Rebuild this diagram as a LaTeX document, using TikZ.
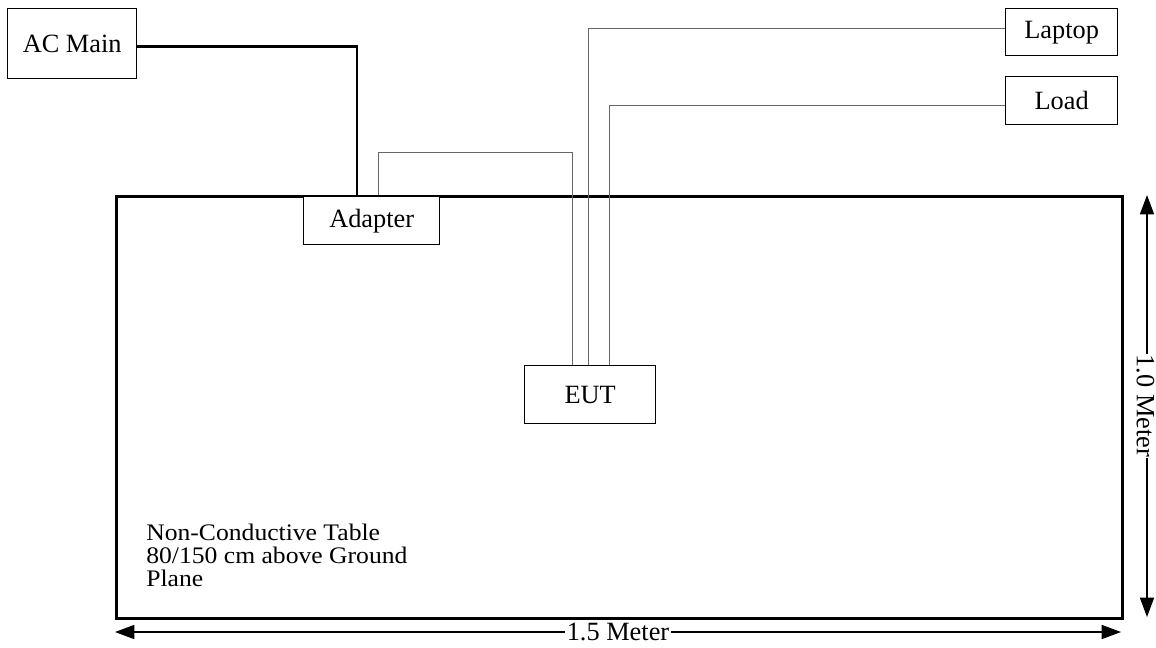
\documentclass[tikz,border=0pt]{standalone}
\usepackage{fontspec}
\setmainfont{Liberation Serif}
\newfontfamily\tablefont[FakeStretch=1.08]{Liberation Serif}
\usetikzlibrary{arrows.meta, positioning, calc}

\begin{document}
\begin{tikzpicture}[x=0.02cm, y=-0.02cm]
\tikzset{
  unit/.style={
    draw,
    rectangle,
    fill=white,
    line width=0.8pt,
    inner sep=0pt,
    font=\fontsize{15}{17}\selectfont
  },
  cable/.style={
    draw=black!60,
    line width=0.5pt
  },
  mains/.style={
    line width=1.7pt
  },
  dim/.style={
    line width=0.8pt,
    {Triangle[length=11pt,width=8pt]}-{Triangle[length=11pt,width=8pt]}
  }
}
\useasboundingbox (0,0) rectangle (1156,647);

% Non-conductive table
\node[draw, rectangle, line width=1.7pt, minimum width=1006*0.02cm, minimum height=422*0.02cm, anchor=north west] (table) at (115,195) {};
\node[anchor=north west, align=left, font=\tablefont\fontsize{13.5}{13.1}\selectfont, inner sep=0pt] (tabletext) at (146,524) {Non-Conductive Table\\80/150 cm above Ground\\Plane};

% Units
\node[unit, minimum width=129*0.02cm, minimum height=70*0.02cm, anchor=north west] (acmain) at (7,8) {AC Main};
\node[unit, minimum width=112*0.02cm, minimum height=47*0.02cm, anchor=north west] (laptop) at (1005,8) {Laptop};
\node[unit, minimum width=112*0.02cm, minimum height=48*0.02cm, anchor=north west] (load) at (1005,76) {Load};
\node[unit, minimum width=136*0.02cm, minimum height=48*0.02cm, anchor=north west] (adapter) at (303,196) {Adapter};
\node[unit, minimum width=131*0.02cm, minimum height=58*0.02cm, anchor=north west] (eut) at (524,365) {EUT};

% Mains cable
\coordinate (mainsdrop) at (357,195);
\draw[mains] (acmain.east |- 0,46) -| (mainsdrop);

% Cables from EUT
\coordinate (adapterout) at (378,195);
\draw[cable] (adapterout) |- (572,152) -- (eut.north -| 572,0);
\draw[cable] (eut.north -| 588,0) |- (laptop.west |- 0,28);
\draw[cable] (eut.north -| 609,0) |- (load.west |- 0,105);

% Dimensions
\coordinate (vtop) at (1147,195);
\coordinate (vbot) at (1147,617);
\draw[dim] (vtop) -- (vbot);
\node[fill=white, inner sep=0.5pt, rotate=-90, font=\fontsize{15}{17}\selectfont] (vlabel) at (1145.5,406) {1.0 Meter};

\coordinate (hleft) at (115,632);
\coordinate (hright) at (1121,632);
\draw[dim] (hleft) -- (hright);
\node[fill=white, inner sep=1pt, font=\fontsize{15}{17}\selectfont] (hlabel) at (618,632) {1.5 Meter};

\end{tikzpicture}
\end{document}
